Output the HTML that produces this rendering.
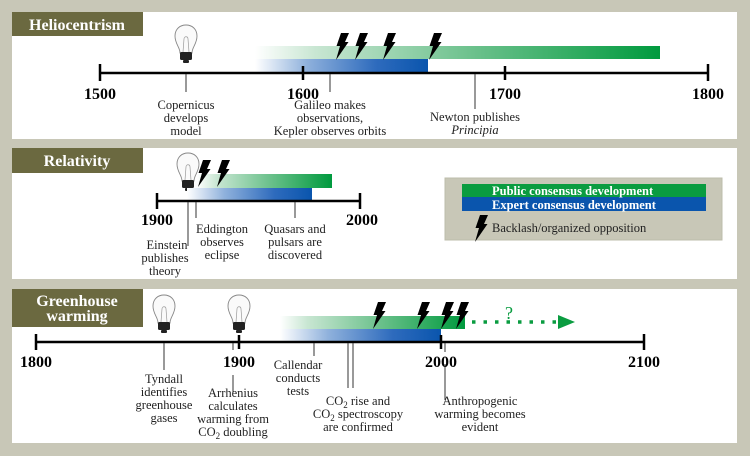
<!DOCTYPE html>
<html><head><meta charset="utf-8"><style>
html,body{margin:0;padding:0;background:#c8c7b7;}
svg{display:block;font-family:"Liberation Serif",serif;}
</style></head><body>
<svg width="750" height="456" viewBox="0 0 750 456" xmlns="http://www.w3.org/2000/svg">
<defs>
<linearGradient id="gG" x1="0" x2="1" y1="0" y2="0">
<stop offset="0" stop-color="#ffffff"/><stop offset="0.15" stop-color="#c8e6d2"/><stop offset="0.55" stop-color="#69c08a"/><stop offset="1" stop-color="#009a3e"/></linearGradient>
<linearGradient id="gB" x1="0" x2="1" y1="0" y2="0">
<stop offset="0" stop-color="#ffffff"/><stop offset="0.3" stop-color="#8fb1dc"/><stop offset="0.7" stop-color="#2e6bbd"/><stop offset="1" stop-color="#0a55ad"/></linearGradient>
<path id="bolt" d="M6,0 L14,0 L10,9 L13.5,9 L1,27 L5,13 L1.5,13 Z" fill="#000"/>
<g id="bulb">
<path d="M-6,14 C-6,8 -11,5 -11,-3 C-11,-10 -6,-14 0,-14 C6,-14 11,-10 11,-3 C11,5 6,8 6,14 Z" fill="#fafafa" stroke="#888" stroke-width="0.9"/>
<path d="M-3,13 L-2,0 M3,13 L2,0 M-2,0 C-2,-3 2,-3 2,0" fill="none" stroke="#999" stroke-width="0.7"/>
<rect x="-6" y="13" width="12" height="8" rx="1.5" fill="#222"/>
<rect x="-3" y="21" width="6" height="3" rx="1" fill="#222"/>
</g>
</defs>
<rect width="750" height="456" fill="#c8c7b7"/>

<!-- Panel 1 -->
<rect x="12" y="12" width="725" height="127" fill="#fff"/>
<rect x="12" y="12" width="131" height="24" fill="#6b6940"/>
<text x="77" y="30" fill="#fff" font-size="16" font-weight="bold" text-anchor="middle">Heliocentrism</text>
<use href="#bulb" x="186" y="39"/>
<rect x="255" y="46" width="405" height="13" fill="url(#gG)"/>
<rect x="255" y="59" width="173" height="13" fill="url(#gB)"/>
<use href="#bolt" x="335" y="33"/><use href="#bolt" x="354" y="33"/><use href="#bolt" x="382" y="33"/><use href="#bolt" x="428" y="33"/>
<line x1="100" y1="73" x2="708" y2="73" stroke="#000" stroke-width="2.5"/>
<g stroke="#000" stroke-width="2.5"><line x1="100" y1="64" x2="100" y2="81"/><line x1="303" y1="66" x2="303" y2="80"/><line x1="505" y1="66" x2="505" y2="80"/><line x1="708" y1="64" x2="708" y2="81"/></g>
<g stroke="#333" stroke-width="1"><line x1="186" y1="74" x2="186" y2="92"/><line x1="330" y1="74" x2="330" y2="92"/><line x1="475" y1="74" x2="475" y2="109"/></g>
<g font-size="16" font-weight="bold" text-anchor="middle"><text x="100" y="99">1500</text><text x="303" y="99">1600</text><text x="505" y="99">1700</text><text x="708" y="99">1800</text></g>
<g font-size="12.5" text-anchor="middle" fill="#222">
<text x="186" y="109">Copernicus</text><text x="186" y="122">develops</text><text x="186" y="135">model</text>
<text x="330" y="109">Galileo makes</text><text x="330" y="122">observations,</text><text x="330" y="135">Kepler observes orbits</text>
<text x="475" y="121">Newton publishes</text><text x="475" y="134" font-style="italic">Principia</text>
</g>

<!-- Panel 2 -->
<rect x="12" y="148" width="725" height="131" fill="#fff"/>
<rect x="12" y="148" width="131" height="25" fill="#6b6940"/>
<text x="77" y="166" fill="#fff" font-size="16" font-weight="bold" text-anchor="middle">Relativity</text>
<use href="#bulb" x="188" y="167"/>
<rect x="197" y="174" width="135" height="14" fill="url(#gG)"/>
<rect x="187" y="188" width="125" height="13" fill="url(#gB)"/>
<use href="#bolt" x="197" y="160"/><use href="#bolt" x="216" y="160"/>
<line x1="157" y1="201" x2="360" y2="201" stroke="#000" stroke-width="2.5"/>
<g stroke="#000" stroke-width="2.5"><line x1="157" y1="193" x2="157" y2="209"/><line x1="360" y1="193" x2="360" y2="209"/></g>
<g stroke="#333" stroke-width="1"><line x1="188" y1="202" x2="188" y2="246"/><line x1="196" y1="202" x2="196" y2="218"/><line x1="295" y1="202" x2="295" y2="218"/></g>
<g font-size="16" font-weight="bold" text-anchor="middle"><text x="157" y="225">1900</text><text x="362" y="225">2000</text></g>
<g font-size="12.5" text-anchor="middle" fill="#222">
<text x="222" y="233">Eddington</text><text x="222" y="246">observes</text><text x="222" y="259">eclipse</text>
<text x="295" y="233">Quasars and</text><text x="295" y="246">pulsars are</text><text x="295" y="259">discovered</text>
<text x="167" y="249">Einstein</text><text x="165" y="262">publishes</text><text x="165" y="275">theory</text>
</g>
<rect x="445" y="178" width="277" height="62" fill="#c8c7b7" stroke="#bdbcab"/>
<rect x="462" y="184" width="244" height="13" fill="#0a9c40"/>
<rect x="462" y="197" width="244" height="14" fill="#0a55ad"/>
<g font-size="12.5" font-weight="bold" fill="#fff"><text x="492" y="195">Public consensus development</text><text x="492" y="209">Expert consensus development</text></g>
<use href="#bolt" x="474" y="215"/>
<text x="492" y="232" font-size="12.5" fill="#222">Backlash/organized opposition</text>

<!-- Panel 3 -->
<rect x="12" y="289" width="725" height="154" fill="#fff"/>
<rect x="12" y="289" width="131" height="38" fill="#6b6940"/>
<text x="77" y="306" fill="#fff" font-size="16" font-weight="bold" text-anchor="middle">Greenhouse</text>
<text x="77" y="321" fill="#fff" font-size="16" font-weight="bold" text-anchor="middle">warming</text>
<use href="#bulb" x="164" y="309"/><use href="#bulb" x="239" y="309"/>
<rect x="280" y="316" width="185" height="13" fill="url(#gG)"/>
<rect x="280" y="329" width="161" height="13" fill="url(#gB)"/>
<use href="#bolt" x="372" y="302"/><use href="#bolt" x="416" y="302"/><use href="#bolt" x="440" y="302"/><use href="#bolt" x="455" y="302"/>
<line x1="472" y1="322" x2="560" y2="322" stroke="#0a9c40" stroke-width="3.5" stroke-dasharray="3.5,8"/>
<polygon points="558,315 575,322 558,329" fill="#0a9c40"/>
<text x="509" y="319" font-size="18" fill="#0a9c40" text-anchor="middle">?</text>
<line x1="36" y1="342" x2="644" y2="342" stroke="#000" stroke-width="2.5"/>
<g stroke="#000" stroke-width="2.5"><line x1="36" y1="334" x2="36" y2="350"/><line x1="239" y1="335" x2="239" y2="349"/><line x1="441" y1="335" x2="441" y2="349"/><line x1="644" y1="334" x2="644" y2="350"/></g>
<g stroke="#333" stroke-width="1"><line x1="164" y1="343" x2="164" y2="370"/><line x1="233" y1="343" x2="233" y2="350"/><line x1="233" y1="375" x2="233" y2="392"/><line x1="314" y1="343" x2="314" y2="356"/><line x1="348" y1="343" x2="348" y2="388"/><line x1="353" y1="343" x2="353" y2="388"/><line x1="445" y1="343" x2="445" y2="352"/><line x1="445" y1="364" x2="445" y2="400"/></g>
<g font-size="16" font-weight="bold" text-anchor="middle"><text x="36" y="367">1800</text><text x="239" y="367">1900</text><text x="441" y="367">2000</text><text x="644" y="367">2100</text></g>
<g font-size="12.5" text-anchor="middle" fill="#222">
<text x="164" y="383">Tyndall</text><text x="164" y="396">identifies</text><text x="164" y="409">greenhouse</text><text x="164" y="422">gases</text>
<text x="233" y="397">Arrhenius</text><text x="233" y="410">calculates</text><text x="233" y="423">warming from</text><text x="233" y="436">CO<tspan font-size="9" dy="3">2</tspan><tspan dy="-3"> doubling</tspan></text>
<text x="298" y="369">Callendar</text><text x="298" y="382">conducts</text><text x="298" y="395">tests</text>
<text x="358" y="405">CO<tspan font-size="9" dy="3">2</tspan><tspan dy="-3"> rise and</tspan></text><text x="358" y="418">CO<tspan font-size="9" dy="3">2</tspan><tspan dy="-3"> spectroscopy</tspan></text><text x="358" y="431">are confirmed</text>
<text x="480" y="405">Anthropogenic</text><text x="480" y="418">warming becomes</text><text x="480" y="431">evident</text>
</g>
</svg>
</body></html>
